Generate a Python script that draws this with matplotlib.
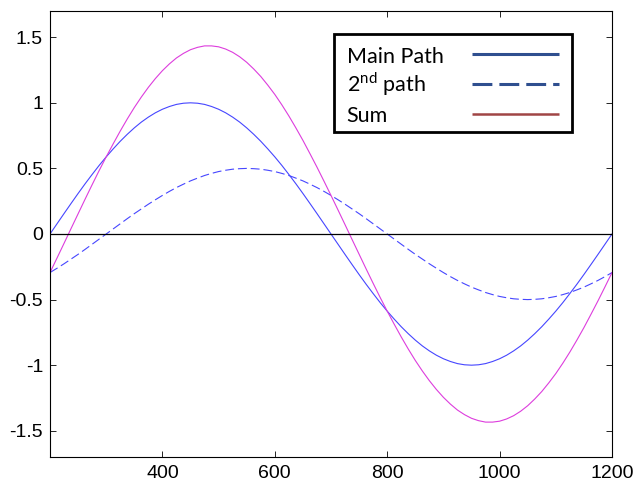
import matplotlib
matplotlib.use("Agg")
import matplotlib.pyplot as plt
from matplotlib.patches import Rectangle
import numpy as np

plt.rcParams["font.family"] = ["Liberation Sans", "DejaVu Sans"]

x_vals = np.arange(200, 1200.1, 12.5)
main_path = [0, .078, .156, .233, .309, .383, .454, .523, .588, .649, .707, .760, .809, .853, .891, .924, .951, .972, .988, .997,
             1, .997, .988, .972, .951, .924, .891, .853, .809, .760, .707, .649, .588, .523, .454, .383, .309, .233, .156, .078,
             0, -.078, -.156, -.233, -.309, -.383, -.454, -.523, -.588, -.649, -.707, -.760, -.809, -.853, -.891, -.924, -.951, -.972, -.988, -.997,
             -1, -.997, -.988, -.972, -.951, -.924, -.891, -.853, -.809, -.760, -.707, -.649, -.588, -.523, -.454, -.383, -.309, -.233, -.156, -.078, 0]
second_path = [-.294, -.261, -.227, -.191, -.155, -.117, -.078, -.039, 0, .039, .078, .117, .155, .191, .227, .261, .294, .325, .354, .380,
               .405, .426, .446, .462, .476, .486, .494, .498, .5, .498, .494, .486, .476, .462, .446, .426, .405, .380, .354, .325,
               .294, .261, .227, .191, .155, .117, .078, .039, 0, -.039, -.078, -.117, -.155, -.191, -.227, -.261, -.294, -.325, -.354, -.380,
               -.405, -.426, -.446, -.462, -.476, -.486, -.494, -.498, -.5, -.498, -.494, -.486, -.476, -.462, -.446, -.426, -.405, -.380, -.354, -.325, -.294]
sum_path = [-.294, -.183, -.071, .042, .154, .266, .376, .484, .588, .688, .785, .877, .964, 1.044, 1.118, 1.185, 1.245, 1.297, 1.342, 1.377,
            1.405, 1.423, 1.434, 1.434, 1.427, 1.410, 1.385, 1.351, 1.309, 1.258, 1.201, 1.135, 1.064, .985, .900, .809, .714, .613, .510, .403,
            .294, .183, .071, -.042, -.154, -.266, -.376, -.484, -.588, -.688, -.785, -.877, -.964, -1.044, -1.118, -1.185, -1.245, -1.297, -1.342, -1.377,
            -1.405, -1.423, -1.434, -1.434, -1.427, -1.410, -1.385, -1.351, -1.309, -1.258, -1.201, -1.135, -1.064, -.985, -.900, -.809, -.714, -.613, -.510, -.403, -.294]
x_ticks = [400, 600, 800, 1000, 1200]
y_ticks = [-1.5, -1, -0.5, 0, 0.5, 1, 1.5]
y_tick_labels = ["-1.5", "-1", "-0.5", "0", "0.5", "1", "1.5"]
legend_labels = ["Main Path", "2$^{\\mathregular{nd}}$ path", "Sum"]

fig = plt.figure(figsize=(6.4, 4.83), dpi=100)
ax = fig.add_axes([50/640, 26/483, 562/640, 446/483])

ax.plot(x_vals, main_path, color="#4646ff", lw=0.8)
ax.plot(x_vals, second_path, color="#4646ff", lw=0.8, dashes=(8, 3.5))
ax.plot(x_vals, sum_path, color="#dd3ddd", lw=0.8)
ax.axhline(0, color="black", lw=0.9)

ax.set_xlim(200, 1200)
ax.set_ylim(-1.7, 1.7)
ax.set_xticks(x_ticks)
ax.set_xticklabels([str(t) for t in x_ticks])
ax.set_yticks(y_ticks)
ax.set_yticklabels(y_tick_labels)
ax.tick_params(direction="in", top=True, right=True, length=4, width=0.6,
               labelsize=14, pad=5)
ax.tick_params(axis="x", pad=6)
for s in ax.spines.values():
    s.set_linewidth(0.8)

# manual legend (text left, sample line right)
ax.add_patch(Rectangle((0.505, 0.729), 0.424, 0.219, transform=ax.transAxes,
                       facecolor="white", edgecolor="black", lw=2, zorder=5))
text_y = [0.883, 0.818, 0.751]
line_y = [0.904, 0.836, 0.769]
styles = [dict(color="#2f4f8f", lw=2.2),
          dict(color="#2f4f8f", lw=2.2, dashes=(6.5, 2.3)),
          dict(color="#a04545", lw=1.8)]
for lab, ty, ly, st in zip(legend_labels, text_y, line_y, styles):
    ax.text(0.528, ty, lab, transform=ax.transAxes, ha="left", va="baseline",
            fontsize=15.5, family=["Lato", "DejaVu Sans"], zorder=6)
    ax.plot([0.751, 0.906], [ly, ly], transform=ax.transAxes, zorder=6,
            solid_capstyle="butt", dash_capstyle="butt", **st)

fig.savefig("out.png", dpi=100)
